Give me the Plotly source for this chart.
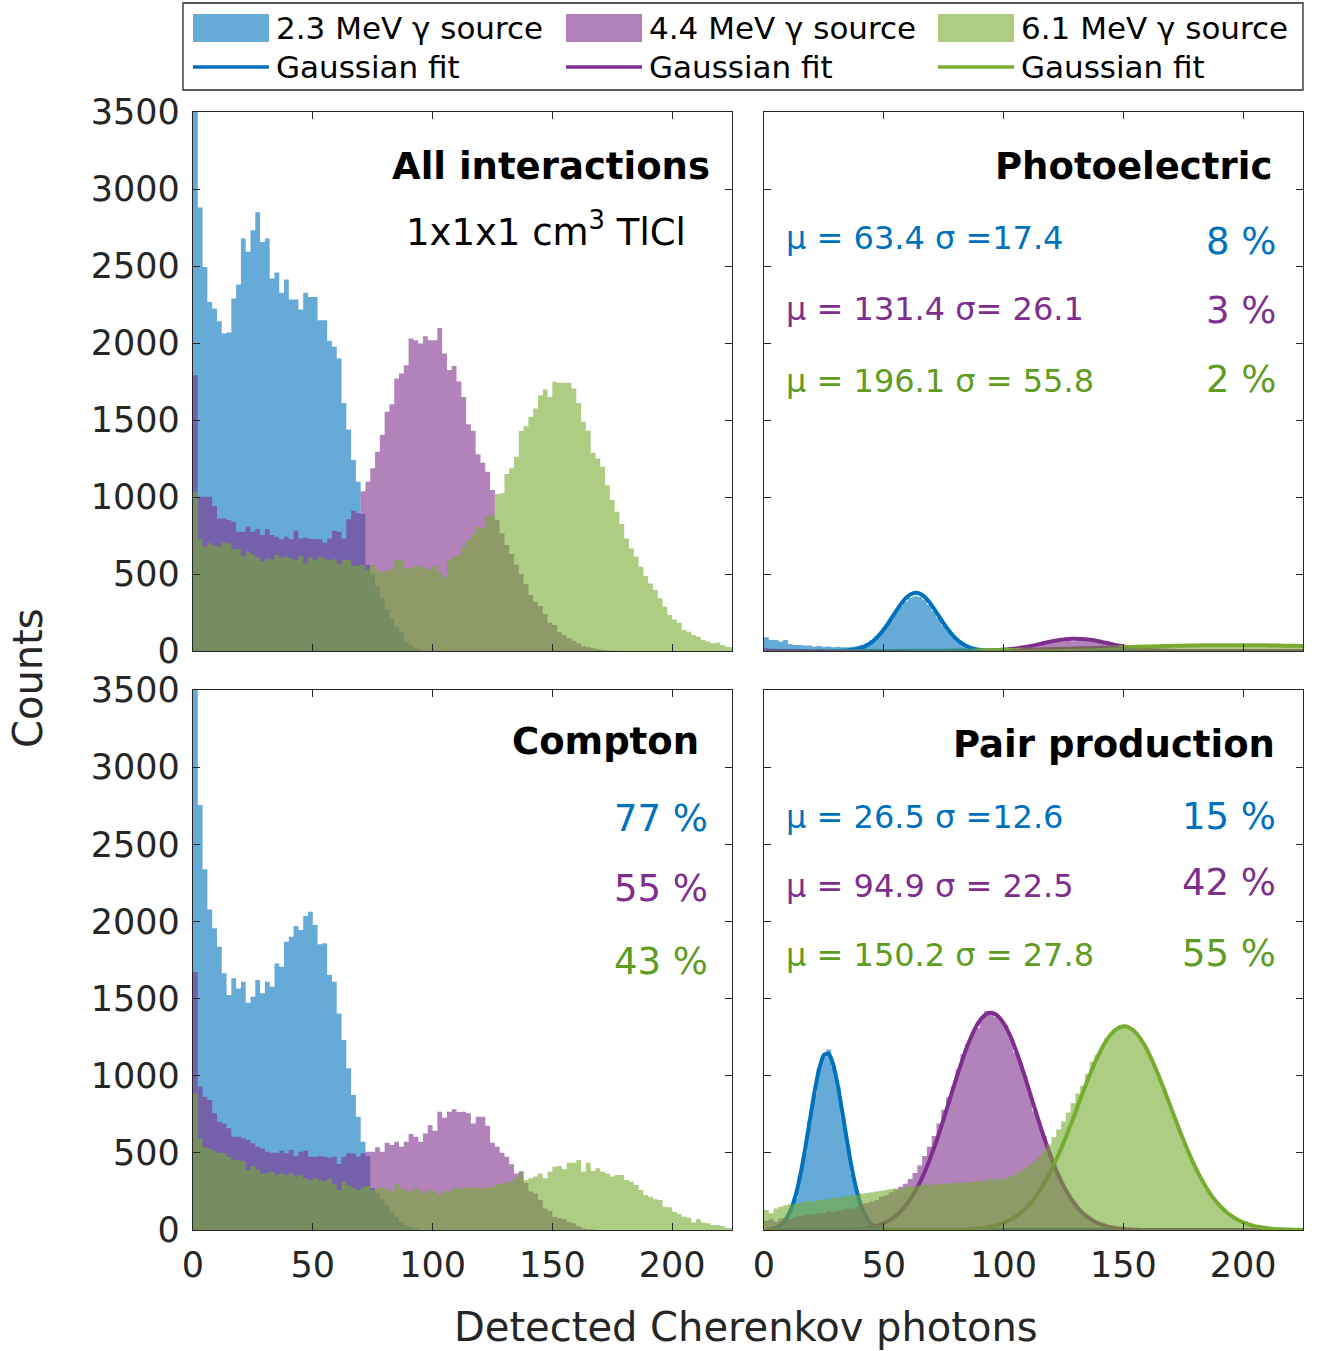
import numpy as np
import plotly.graph_objects as go

W, H = 1317, 1351
BIN = 2  # bin width (photons)

# ---------------- data (counts per 2-photon bin, bins start at 0) ----------------
all_23 = [3600, 2880, 2494, 2267, 2224, 2142, 2062, 2068, 2289, 2380,
          2678, 2592, 2732, 2849, 2656, 2678, 2419, 2458, 2326, 2413,
          2282, 2282, 2217, 2326, 2299, 2299, 2148, 2148, 2014, 1975,
          1900, 1611, 1439, 1240, 1099, 890, 560, 500, 420, 342,
          270, 212, 154, 121, 61, 39, 17, 6, 0, 0,
          0, 0, 0, 0, 0, 0, 0, 0, 0, 0, 0, 0, 0, 0, 0, 0, 0, 0, 0, 0,
          0, 0, 0, 0, 0, 0, 0, 0, 0, 0, 0, 0, 0, 0, 0, 0, 0, 0, 0, 0,
          0, 0, 0, 0, 0, 0, 0, 0, 0, 0, 0, 0, 0, 0, 0, 0, 0, 0, 0, 0,
          0, 0, 0]
all_44 = [1790, 1002, 1002, 1002, 941, 861, 861, 850, 839, 774,
          774, 807, 774, 790, 753, 792, 753, 742, 725, 742,
          725, 781, 731, 735, 727, 727, 725, 703, 731, 781,
          774, 731, 855, 911, 894, 1038, 1099, 1186, 1294, 1402,
          1553, 1603, 1770, 1802, 1856, 2029, 2018, 1997, 2044, 2018,
          2018, 2098, 1932, 1824, 1850, 1750, 1650, 1473, 1430, 1278,
          1222, 1164, 1045, 850, 764, 688, 630, 562, 500, 435,
          363, 320, 292, 240, 184, 169, 121, 104, 82, 67,
          50, 32, 26, 19, 13, 8, 5, 3, 2, 0,
          0, 0, 0, 0, 0, 0, 0, 0, 0, 0, 0, 0, 0, 0, 0, 0, 0, 0, 0, 0,
          0, 0, 0]
all_61 = [1034, 725, 677, 699, 688, 677, 705, 699, 666, 660,
          619, 645, 627, 612, 584, 601, 595, 623, 606, 612,
          601, 591, 619, 569, 608, 591, 612, 599, 591, 595,
          562, 591, 591, 552, 556, 558, 530, 558, 526, 515,
          521, 536, 591, 591, 536, 541, 554, 547, 541, 530,
          554, 515, 482, 591, 612, 623, 677, 720, 760, 807,
          800, 876, 880, 1019, 1025, 1149, 1186, 1261, 1428, 1460,
          1521, 1575, 1661, 1698, 1650, 1748, 1742, 1742, 1742, 1705,
          1611, 1488, 1430, 1287, 1250, 1196, 1077, 980, 904, 824,
          731, 666, 612, 547, 487, 439, 396, 342, 288, 234,
          205, 184, 136, 125, 104, 93, 71, 61, 50, 54,
          39, 28, 24]

pe_23 = [89, 71, 71, 61, 71, 45, 39, 39, 35, 35,
         30, 32, 28, 30, 25, 27,
         25, 24, 28, 32, 40, 52, 70, 95, 125, 162,
         205, 248, 290, 322, 345, 356, 352, 334, 300, 258,
         214, 168, 128, 92, 64, 42, 27, 16, 9, 5,
         3, 2, 1,
         0, 0, 0, 0, 0, 0, 0, 0, 0, 0, 0, 0, 0, 0, 0, 0, 0, 0, 0, 0,
         0, 0, 0, 0, 0, 0, 0, 0, 0, 0, 0, 0, 0, 0, 0, 0, 0, 0, 0, 0,
         0, 0, 0, 0, 0, 0, 0, 0, 0, 0, 0, 0, 0, 0, 0, 0, 0, 0, 0, 0,
         0, 0, 0, 0]
pe_44 = [18, 15, 14, 12, 13, 11, 10, 11, 9, 10,
         8, 9, 8, 7, 8, 7, 6, 7, 6, 5,
         6, 5, 5, 4, 5, 4, 4, 3, 4, 3,
         3, 3, 2, 3, 2, 2, 2, 2, 2, 1,
         2, 1, 1, 2, 1,
         2, 2, 3, 4, 6, 7, 10, 13, 17, 21,
         27, 31, 37, 42, 49, 53, 58, 62, 66, 64,
         68, 66, 64, 62, 57, 52, 47, 42, 36, 30,
         24, 19, 15, 11, 8, 6, 4, 3, 2, 1,
         1, 1,
         1, 1, 1, 1, 0, 0, 0, 0, 0, 0, 0, 0, 0, 0, 0, 0, 0, 0, 0, 0,
         0, 0, 0, 0, 0, 0]
pe_61 = [2, 1, 2, 1, 1, 2, 1, 1, 0, 1,
         1, 0, 1, 1, 0, 1, 1, 1, 0, 1,
         1, 1, 0, 1, 1, 1, 1, 1, 2, 1,
         1, 2, 1, 2, 2, 1, 2, 2, 3, 2,
         3, 3, 2, 3, 4, 3, 4, 4, 5, 5,
         6, 6, 7, 7, 8, 8, 9, 10, 10, 11,
         12, 12, 13, 14, 15, 15, 16, 17, 18, 19,
         20, 21, 22, 22, 23, 24, 25, 26, 26, 28,
         28, 29, 30, 30, 31, 32, 32, 33, 33, 34,
         34, 35, 34, 35, 36, 35, 36, 36, 35, 36,
         36, 35, 36, 35, 35, 34, 34, 33, 33, 32,
         32, 31, 30]

comp_23 = [3600, 2754, 2338, 2078, 1955, 1836, 1664, 1523, 1631, 1566,
           1609, 1473, 1512, 1620, 1534, 1609, 1577, 1728, 1706, 1869,
           1901, 1970, 1944, 2035, 2063, 1977, 1852, 1858, 1653, 1609,
           1404, 1231, 1048, 875, 734, 572, 480, 270, 240, 200,
           162, 119, 86, 54, 32, 22, 11, 0, 0, 0,
           0, 0, 0, 0, 0, 0, 0, 0, 0, 0, 0, 0, 0, 0, 0, 0, 0, 0, 0, 0,
           0, 0, 0, 0, 0, 0, 0, 0, 0, 0, 0, 0, 0, 0, 0, 0, 0, 0, 0, 0,
           0, 0, 0, 0, 0, 0, 0, 0, 0, 0, 0, 0, 0, 0, 0, 0, 0, 0, 0, 0,
           0, 0, 0]
comp_44 = [1670, 929, 864, 843, 756, 702, 691, 659, 605, 605,
           594, 583, 562, 540, 529, 507, 501, 501, 514, 497,
           518, 480, 507, 514, 475, 475, 480, 475, 469, 475,
           428, 475, 497, 497, 475, 497, 507, 507, 536, 507,
           566, 551, 572, 540, 572, 622, 605, 572, 626, 680,
           644, 767, 728, 767, 782, 765, 767, 756, 691, 734,
           734, 676, 566, 540, 501, 475, 426, 367, 380, 307,
           249, 238, 194, 140, 125, 86, 76, 70, 54, 43,
           22, 11, 5, 3, 0, 0, 0, 0, 0, 0,
           0, 0, 0, 0, 0, 0, 0, 0, 0, 0, 0, 0, 0, 0, 0, 0, 0, 0, 0, 0,
           0, 0, 0]
comp_61 = [886, 594, 536, 529, 512, 501, 497, 475, 454, 454,
           447, 389, 415, 393, 367, 371, 378, 356, 367, 356,
           371, 346, 356, 335, 324, 335, 324, 318, 335, 298,
           259, 313, 292, 270, 259, 281, 285, 259, 270, 276,
           264, 249, 298, 270, 259, 249, 276, 255, 238, 259,
           249, 227, 255, 249, 270, 270, 270, 281, 276, 274,
           270, 274, 281, 298, 298, 307, 313, 340, 378, 324,
           335, 346, 367, 335, 378, 410, 415, 393, 436, 436,
           454, 378, 436, 384, 400, 378, 367, 346, 356, 356,
           324, 313, 292, 259, 227, 216, 199, 194, 151, 147,
           119, 104, 86, 80, 48, 69, 48, 43, 32, 32,
           26, 15, 11]

pp_23 = [2, 6, 15, 35, 62, 128, 208, 350, 500, 705,
         880, 1050, 1125, 1170, 1060, 925, 728, 550, 365, 240,
         135, 78, 36, 20, 8, 3, 1, 0, 0, 0,
         0, 0, 0, 0, 0, 0, 0, 0, 0, 0, 0, 0, 0, 0, 0, 0, 0, 0, 0, 0,
         0, 0, 0, 0, 0, 0, 0, 0, 0, 0, 0, 0, 0, 0, 0, 0, 0, 0, 0, 0,
         0, 0, 0, 0, 0, 0, 0, 0, 0, 0, 0, 0, 0, 0, 0, 0, 0, 0, 0, 0,
         0, 0, 0, 0, 0, 0, 0, 0, 0, 0, 0, 0, 0, 0, 0, 0, 0, 0, 0, 0,
         0, 0, 0]
pp_44 = [60, 70, 55, 75, 80, 70, 85, 90, 95, 100,
         100, 110, 105, 120, 115, 125, 130, 140, 135, 150,
         170, 175, 185, 195, 215, 225, 245, 260, 280, 300,
         330, 370, 420, 480, 540, 610, 690, 780, 860, 930,
         1040, 1140, 1205, 1270, 1310, 1375, 1420, 1400, 1380, 1363,
         1330, 1250, 1150, 1084, 1000, 889, 770, 690, 610, 507,
         425, 352, 288, 232, 184, 144, 111, 85, 63, 47,
         35, 25, 18, 12, 8, 5, 3, 2, 1, 0,
         0, 0, 0, 0, 0, 0, 0, 0, 0, 0, 0, 0, 0, 0, 0, 0, 0, 0, 0, 0,
         0, 0, 0, 0, 0, 0, 0, 0, 0, 0, 0, 0, 0]
pp_61 = [130, 108, 140, 150, 160, 165, 170, 175, 180, 190,
         185, 195, 200, 200, 210, 205, 215, 220, 225, 230,
         235, 240, 245, 250, 255, 260, 265, 270, 265, 280,
         285, 280, 290, 295, 290, 300, 295, 300, 305, 300,
         310, 305, 315, 310, 320, 315, 325, 330, 325, 330,
         332, 348, 361, 379, 397, 419, 448, 477, 513, 554,
         602, 651, 704, 762, 822, 885, 935, 1012, 1090, 1134,
         1186, 1245, 1272, 1301, 1330, 1310, 1307, 1282, 1243, 1194,
         1134, 1065, 990, 911, 829, 747, 665, 587, 512, 442,
         377, 319, 266, 220, 180, 146, 117, 93, 73, 57,
         44, 33, 25, 19, 14, 10, 7, 5, 4, 3,
         2, 1, 1]

# Gaussian-fit curves, sampled at bin centres (x = 1, 3, ..., 225)
fit_x2 = list(range(1, 226, 2))
pe_23_fit = [0, 0, 0, 0, 0, 0, 0, 0, 0, 0, 0, 0, 0, 0, 0, 0,
             2, 4, 8, 14, 23, 38, 58, 85, 120, 161, 208, 256, 301, 340, 366, 378,
             373, 352, 318, 274, 227, 179, 136, 98, 68, 45, 29, 17, 10, 6, 3, 2, 1,
             0, 0, 0, 0, 0, 0, 0, 0, 0, 0, 0, 0, 0, 0, 0, 0, 0, 0, 0, 0, 0, 0, 0, 0,
             0, 0, 0, 0, 0, 0, 0, 0, 0, 0, 0, 0, 0, 0, 0, 0, 0, 0, 0, 0, 0, 0, 0, 0,
             0, 0, 0, 0, 0, 0, 0, 0, 0, 0, 0, 0, 0, 0, 0, 0, 0, 0, 0, 0, 0, 0, 0, 0]
pp_23_fit = [3, 6, 15, 33, 66, 124, 214, 343, 509, 698,
             886, 1042, 1134, 1143, 1066, 921, 736, 545, 373, 237,
             139, 76, 38, 18, 8, 3, 1, 0, 0, 0,
             0, 0, 0, 0, 0, 0, 0, 0, 0, 0, 0, 0, 0, 0, 0, 0, 0, 0, 0, 0,
             0, 0, 0, 0, 0, 0, 0, 0, 0, 0, 0, 0, 0, 0, 0, 0, 0, 0, 0, 0,
             0, 0, 0, 0, 0, 0, 0, 0, 0, 0, 0, 0, 0, 0, 0, 0, 0, 0, 0, 0,
             0, 0, 0, 0, 0, 0, 0, 0, 0, 0, 0, 0, 0, 0, 0, 0, 0, 0, 0, 0,
             0, 0, 0]
pp_44_fit = [0, 0, 0, 0, 0, 0, 0, 0, 0, 0, 0, 0, 0, 0, 0,
             1, 2, 3, 5, 7, 10, 14, 20, 27, 38, 52, 69, 92, 120, 155,
             197, 248, 306, 373, 449, 533, 623, 720, 819, 919,
             1018, 1111, 1197, 1270, 1331, 1375, 1401, 1408, 1395, 1363,
             1315, 1250, 1172, 1084, 988, 889, 789, 690, 596, 507,
             425, 352, 288, 232, 184, 144, 111, 85, 63, 47,
             35, 25, 18, 12, 8, 5, 3, 2, 1,
             0, 0, 0, 0, 0, 0, 0, 0, 0, 0, 0, 0, 0, 0, 0, 0, 0, 0, 0, 0,
             0, 0, 0, 0, 0, 0, 0, 0, 0, 0, 0, 0, 0, 0]
pp_61_fit = [0, 0, 0, 0, 0, 0, 0, 0, 0, 0, 0, 0, 0, 0, 0, 0, 0, 0, 0, 0,
             0, 0, 0, 0, 0, 0, 0, 0, 0, 0, 0, 0, 0, 0, 0, 0, 0, 0, 0, 1,
             2, 3, 5, 6, 9, 12, 17, 23, 30, 40,
             52, 68, 86, 109, 137, 169, 208, 252, 303, 359,
             422, 491, 564, 642, 722, 805, 887, 967, 1043, 1114,
             1176, 1230, 1272, 1301, 1317, 1320, 1307, 1282, 1243, 1194,
             1134, 1065, 990, 911, 829, 747, 665, 587, 512, 442,
             377, 319, 266, 220, 180, 146, 117, 93, 73, 57,
             44, 33, 25, 19, 14, 10, 7, 5, 4, 3,
             2, 1, 1]
# broad fits sampled every 4 photons (x = 1, 5, ..., 225)
fit_x4 = list(range(1, 226, 4))
pe_44_fit = [0, 0, 0, 0, 0, 0, 0, 0, 0, 0, 0, 0, 0, 0, 0, 0, 0, 0, 0, 0, 0,
             0.5, 1.1, 2.4, 5, 9.4, 16.2, 26, 38, 52, 65, 75, 80, 78, 71, 59, 45,
             32, 21, 12.5, 6.9, 3.5, 1.7, 0.7,
             0, 0, 0, 0, 0, 0, 0, 0, 0, 0, 0, 0, 0]
pe_61_fit = [0, 0, 0, 0, 0, 0, 0, 0, 0, 0,
             0.3, 0.4, 0.5, 0.6, 0.8, 1.0, 1.2, 1.5, 1.8, 2.2,
             2.7, 3.2, 3.8, 4.6, 5.4, 6.2, 7.3, 8.4, 9.6, 10.9,
             12.3, 13.9, 15.5, 17.2, 18.9, 20.7, 22.6, 24.4, 26.3, 28.0,
             29.7, 31.4, 32.8, 34.2, 35.4, 36.3, 37.1, 37.6, 38, 38,
             37.8, 37.4, 36.7, 35.9, 34.8, 33.5, 32.1]

x_ticks = [0, 50, 100, 150, 200]
y_ticks = [0, 500, 1000, 1500, 2000, 2500, 3000, 3500]
legend_labels = ["2.3 MeV γ source", "4.4 MeV γ source", "6.1 MeV γ source"]

# ---------------- style ----------------
FONT = "DejaVu Sans"
AX = "#262626"
C_LINE = ["#0072BD", "#7E2F8E", "#77AC30"]
C_FILL = ["rgba(0,114,189,0.6)", "rgba(126,47,142,0.6)", "rgba(119,172,48,0.6)"]
C_TEXT = ["#0072BD", "#7E2F8E", "#5E9C22"]


def px(xp):
    return xp / W


def py(yp):
    return 1 - yp / H


fig = go.Figure()


def add_hist(vals, k, ax):
    edges = np.arange(len(vals) + 1) * BIN
    yy = list(vals) + [vals[-1]]
    fig.add_trace(go.Scatter(x=edges, y=yy, mode="lines",
                             line=dict(width=0, shape="hv", color=C_FILL[k]),
                             fill="tozeroy", fillcolor=C_FILL[k],
                             hoverinfo="skip", showlegend=False,
                             xaxis="x" + ax, yaxis="y" + ax))


def add_fit(xs, vals, k, ax):
    fig.add_trace(go.Scatter(x=xs, y=vals, mode="lines",
                             line=dict(width=4, color=C_LINE[k], shape="spline", smoothing=0.6),
                             hoverinfo="skip", showlegend=False,
                             xaxis="x" + ax, yaxis="y" + ax))


# panel 1: all interactions
for k, v in enumerate([all_23, all_44, all_61]):
    add_hist(v, k, "")
# panel 2: photoelectric
add_fit(fit_x2, pe_23_fit, 0, "2")
add_fit(fit_x4, pe_44_fit, 1, "2")
add_fit(fit_x4, pe_61_fit, 2, "2")
for k, v in enumerate([pe_23, pe_44, pe_61]):
    add_hist(v, k, "2")
# panel 3: compton
for k, v in enumerate([comp_23, comp_44, comp_61]):
    add_hist(v, k, "3")
# panel 4: pair production
add_fit(fit_x2, pp_23_fit, 0, "4")
add_fit(fit_x2, pp_44_fit, 1, "4")
add_fit(fit_x2, pp_61_fit, 2, "4")
for k, v in enumerate([pp_23, pp_44, pp_61]):
    add_hist(v, k, "4")

XL = [px(193), px(732)]
XR = [px(764), px(1303)]
YT = [py(651), py(112)]
YB = [py(1230), py(690)]


def xaxis(dom, anchor, labels):
    return dict(domain=dom, anchor=anchor, range=[0, 225], tickvals=x_ticks,
                ticks="inside", ticklen=7, tickwidth=1.3, tickcolor=AX,
                showline=True, linecolor=AX, linewidth=1.3, mirror="ticks",
                showgrid=False, zeroline=False, showticklabels=labels,
                tickfont=dict(family=FONT, size=35, color=AX), ticklabelstandoff=4,
                automargin=False, fixedrange=True)


def yaxis(dom, anchor, labels):
    return dict(domain=dom, anchor=anchor, range=[0, 3500], tickvals=y_ticks,
                ticks="inside", ticklen=7, tickwidth=1.3, tickcolor=AX,
                showline=True, linecolor=AX, linewidth=1.3, mirror="ticks",
                showgrid=False, zeroline=False, showticklabels=labels,
                tickfont=dict(family=FONT, size=35, color=AX), ticklabelstandoff=5,
                automargin=False, fixedrange=True)


fig.update_layout(
    width=W, height=H, margin=dict(l=0, r=0, t=0, b=0, pad=0, autoexpand=False),
    paper_bgcolor="white", plot_bgcolor="white", showlegend=False,
    xaxis=xaxis(XL, "y", False), yaxis=yaxis(YT, "x", True),
    xaxis2=xaxis(XR, "y2", False), yaxis2=yaxis(YT, "x2", False),
    xaxis3=xaxis(XL, "y3", True), yaxis3=yaxis(YB, "x3", True),
    xaxis4=xaxis(XR, "y4", True), yaxis4=yaxis(YB, "x4", False),
)

ann = []


def text(s, x, y, ax, xanchor, size, color="black", bold=False):
    ann.append(dict(text=("<b>%s</b>" % s) if bold else s, x=x, y=y,
                    xref="x" + ax, yref="y" + ax, xanchor=xanchor, yanchor="middle",
                    showarrow=False, font=dict(family=FONT, size=size, color=color)))


text("All interactions", 216.5, 3148, "", "right", 37, bold=True)
text("1x1x1 cm<sup>3</sup> TlCl", 147.5, 2739, "", "center", 37)
text("Photoelectric", 213, 3148, "2", "right", 37, bold=True)
text("μ = 63.4 σ =17.4", 8.5, 2680, "2", "left", 32, C_TEXT[0])
text("8 %", 214.5, 2661, "2", "right", 37, C_TEXT[0])
text("μ = 131.4 σ= 26.1", 8.5, 2220, "2", "left", 32, C_TEXT[1])
text("3 %", 214.5, 2213, "2", "right", 37, C_TEXT[1])
text("μ = 196.1 σ = 55.8", 8.5, 1752, "2", "left", 32, C_TEXT[2])
text("2 %", 214.5, 1765, "2", "right", 37, C_TEXT[2])
text("Compton", 212, 3163, "3", "right", 37, bold=True)
text("77 %", 216, 2670, "3", "right", 37, C_TEXT[0])
text("55 %", 216, 2216, "3", "right", 37, C_TEXT[1])
text("43 %", 216, 1743, "3", "right", 37, C_TEXT[2])
text("Pair production", 214, 3150, "4", "right", 37, bold=True)
text("μ = 26.5 σ =12.6", 8.5, 2677, "4", "left", 32, C_TEXT[0])
text("15 %", 214.5, 2677, "4", "right", 37, C_TEXT[0])
text("μ = 94.9 σ = 22.5", 8.5, 2229, "4", "left", 32, C_TEXT[1])
text("42 %", 214.5, 2255, "4", "right", 37, C_TEXT[1])
text("μ = 150.2 σ = 27.8", 8.5, 1782, "4", "left", 32, C_TEXT[2])
text("55 %", 214.5, 1795, "4", "right", 37, C_TEXT[2])

# axis titles
ann.append(dict(text="Detected Cherenkov photons", x=px(746), y=py(1327), xref="paper", yref="paper",
                xanchor="center", yanchor="middle", showarrow=False,
                font=dict(family=FONT, size=40, color=AX)))
ann.append(dict(text="Counts", x=px(28), y=py(678), xref="paper", yref="paper",
                xanchor="center", yanchor="middle", showarrow=False, textangle=-90,
                font=dict(family=FONT, size=40, color=AX)))

# legend (drawn manually, MATLAB style)
shapes = [dict(type="rect", xref="paper", yref="paper", x0=px(183), x1=px(1303), y0=py(90), y1=py(3),
               line=dict(color=AX, width=1.3), fillcolor="white", layer="below")]
col_x = [193, 566, 938]
for k in range(3):
    x0 = col_x[k]
    shapes.append(dict(type="rect", xref="paper", yref="paper", x0=px(x0), x1=px(x0 + 76),
                       y0=py(42), y1=py(14), line=dict(width=0), fillcolor=C_FILL[k]))
    shapes.append(dict(type="line", xref="paper", yref="paper", x0=px(x0), x1=px(x0 + 76),
                       y0=py(67), y1=py(67), line=dict(color=C_LINE[k], width=3.5)))
    ann.append(dict(text=legend_labels[k], x=px(x0 + 81), y=py(28), xref="paper", yref="paper",
                    xanchor="left", yanchor="middle", showarrow=False,
                    font=dict(family=FONT, size=31, color="black")))
    ann.append(dict(text="Gaussian fit", x=px(x0 + 81), y=py(67), xref="paper", yref="paper",
                    xanchor="left", yanchor="middle", showarrow=False,
                    font=dict(family=FONT, size=31, color="black")))

fig.update_layout(annotations=ann, shapes=shapes)
fig.write_html("out.html")
